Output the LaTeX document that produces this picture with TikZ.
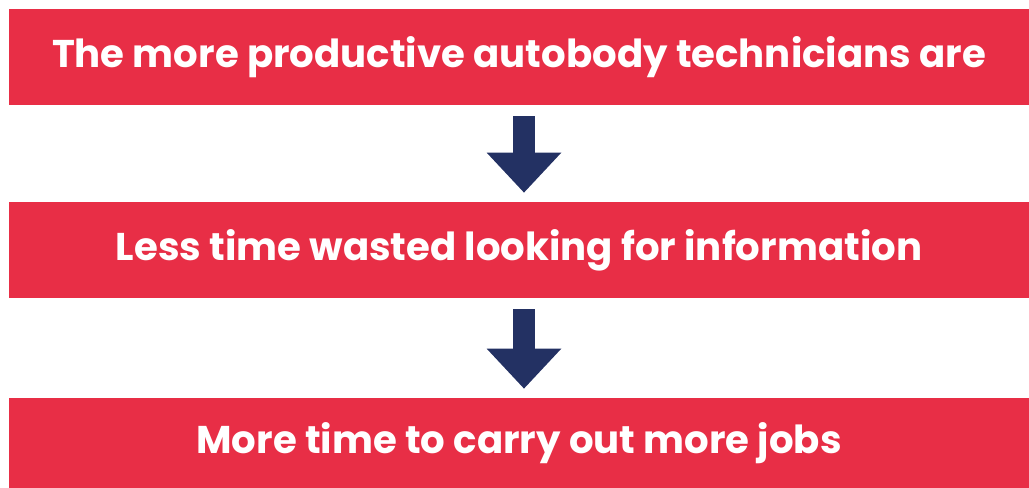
\documentclass[tikz,border=0pt]{standalone}
\usepackage{fontspec}
\setmainfont{Poppins}
\usetikzlibrary{arrows.meta}
\definecolor{boxred}{HTML}{E82E46}
\definecolor{arrowblue}{HTML}{233163}

\begin{document}
\begin{tikzpicture}[x=0.75pt,y=-0.75pt,
    stage/.style={fill=boxred,text=white,inner sep=0pt,minimum width=765pt,
      font=\bfseries\fontsize{29}{34}\selectfont},
    down/.style={draw=arrowblue,line width=16.5pt,
      -{Triangle[width=54pt,length=30pt]},shorten <=8.25pt,shorten >=6.75pt}]

	% Frame
	\useasboundingbox (0,0) rectangle (1029,488);

	% Boxes
	\node[stage,minimum height=72pt] (top) at (519,57) {The more productive autobody technicians are};
	\node[stage,minimum height=72pt] (mid) at (519,250) {Less time wasted looking for information};
	\node[stage,minimum height=67.5pt] (bot) at (519,443) {More time to carry out more jobs};

	% Arrows
	\draw[down] ([xshift=3.75pt]top.south) -- ([xshift=3.75pt]mid.north);
	\draw[down] ([xshift=3.75pt]mid.south) -- ([xshift=3.75pt]bot.north);
\end{tikzpicture}
\end{document}
